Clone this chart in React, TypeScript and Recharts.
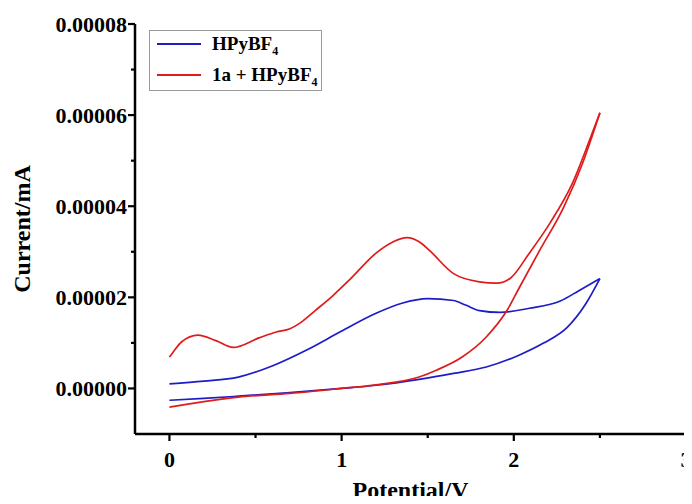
import { LineChart, Line, XAxis, YAxis, Legend } from 'recharts'

// potential (V) / current (mA), each sweep branch listed with rising potential
const blueFwdV = [0, 0.2, 0.4, 0.6, 0.8, 1.0, 1.2, 1.35, 1.5, 1.65, 1.72, 1.8, 1.92, 2.09, 2.27, 2.38, 2.5]
const blueFwdI = [1.0e-6, 1.6e-6, 2.5e-6, 5.0e-6, 8.5e-6, 1.26e-5, 1.65e-5, 1.87e-5, 1.97e-5, 1.93e-5, 1.83e-5, 1.71e-5, 1.67e-5, 1.76e-5, 1.92e-5, 2.15e-5, 2.41e-5]

const blueRevV = [0, 0.2, 0.4, 0.7, 1.0, 1.2, 1.45, 1.65, 1.84, 2.03, 2.17, 2.31, 2.42, 2.5]
const blueRevI = [-2.6e-6, -2.2e-6, -1.7e-6, -9e-7, 0, 7e-7, 2.0e-6, 3.3e-6, 4.7e-6, 7.3e-6, 9.9e-6, 1.34e-5, 1.87e-5, 2.41e-5]

const redFwdV = [0, 0.02, 0.07, 0.165, 0.27, 0.37, 0.52, 0.62, 0.7, 0.76, 0.85, 0.95, 1.05, 1.2, 1.3, 1.38, 1.45, 1.51, 1.65, 1.8, 1.9, 1.98, 2.09, 2.21, 2.34, 2.44, 2.5]
const redFwdI = [6.9e-6, 7.9e-6, 1.02e-5, 1.17e-5, 1.05e-5, 9.0e-6, 1.11e-5, 1.24e-5, 1.31e-5, 1.44e-5, 1.72e-5, 2.04e-5, 2.4e-5, 2.97e-5, 3.22e-5, 3.31e-5, 3.22e-5, 3.03e-5, 2.52e-5, 2.34e-5, 2.31e-5, 2.42e-5, 2.97e-5, 3.63e-5, 4.5e-5, 5.45e-5, 6.05e-5]

const redRevV = [0, 0.2, 0.4, 0.7, 1.0, 1.2, 1.45, 1.55, 1.7, 1.84, 1.96, 2.03, 2.15, 2.29, 2.4, 2.5]
const redRevI = [-4.1e-6, -2.9e-6, -1.9e-6, -1.1e-6, 0, 8e-7, 2.5e-6, 4.0e-6, 6.9e-6, 1.13e-5, 1.71e-5, 2.2e-5, 3.03e-5, 3.98e-5, 4.95e-5, 6.05e-5]

const xTicks = [0, 0.5, 1, 1.5, 2, 2.5, 3]
const yTicks = [0, 0.00001, 0.00002, 0.00003, 0.00004, 0.00005, 0.00006, 0.00007, 0.00008]

const BLUE = '#1c1cc8'
const RED = '#e01b1b'
const FONT = '"Times New Roman", "Liberation Serif", serif'
const TICK_SIZE = 6
const X_MARGIN = 11
const Y_MARGIN = 2

const toPoints = (v: number[], i: number[]) => v.map((x, k) => ({ v: x, i: i[k] }))

const series = [
  { name: 'HPyBF', prefix: '', color: BLUE, fwd: toPoints(blueFwdV, blueFwdI), rev: toPoints(blueRevV, blueRevI) },
  { name: 'HPyBF', prefix: '1a + ', color: RED, fwd: toPoints(redFwdV, redFwdI), rev: toPoints(redRevV, redRevI) },
]

const XTick = ({ x, y, payload }: any) => {
  const major = Number.isInteger(payload.value)
  const axisY = y - TICK_SIZE - X_MARGIN
  return (
    <g>
      <line x1={x} x2={x} y1={axisY} y2={axisY + (major ? 7 : 4)} stroke="#000" strokeWidth={2.2} />
      {major && (
        <text x={x} y={y} dy="0.71em" textAnchor="middle" fontFamily={FONT} fontWeight="bold" fontSize={22} fill="#000">
          {payload.value}
        </text>
      )}
    </g>
  )
}

const YTick = ({ x, y, payload }: any) => {
  const major = Math.round(payload.value * 1e5) % 2 === 0
  const axisX = x + TICK_SIZE + Y_MARGIN
  return (
    <g>
      <line x1={axisX - (major ? 7 : 4)} x2={axisX} y1={y} y2={y} stroke="#000" strokeWidth={2.2} />
      {major && (
        <text x={x} y={y} dy="0.36em" textAnchor="end" fontFamily={FONT} fontWeight="bold" fontSize={22} fill="#000">
          {payload.value.toFixed(5)}
        </text>
      )}
    </g>
  )
}

const LegendBox = () => (
  <div style={{ border: '1px solid #9a9a9a', width: 171, height: 59, background: '#fff', fontFamily: FONT, fontWeight: 'bold', fontSize: 19, color: '#000' }}>
    {series.map((s, k) => (
      <div key={k} style={{ display: 'flex', alignItems: 'center', height: 26, marginTop: k === 0 ? 0 : 5 }}>
        <div style={{ width: 44, height: 2, background: s.color, marginLeft: 7, marginRight: 11 }} />
        <span style={{ whiteSpace: 'nowrap', lineHeight: '26px' }}>
          {s.prefix}{s.name}<sub style={{ fontSize: 12, lineHeight: 0 }}>4</sub>
        </span>
      </div>
    ))}
  </div>
)

export default function App() {
  return (
    <div style={{ margin: -8, width: 692, height: 504, background: '#fff' }}>
      <LineChart width={692} height={504} margin={{ top: 24, right: 6, bottom: 0, left: 0 }}>
        <XAxis
          type="number"
          dataKey="v"
          domain={[-0.2, 3]}
          ticks={xTicks}
          interval={0}
          height={70}
          tickSize={TICK_SIZE}
          tickMargin={X_MARGIN}
          tickLine={false}
          tick={(p: any) => <XTick {...p} />}
          axisLine={{ stroke: '#000', strokeWidth: 2.5 }}
          allowDataOverflow
          label={{ value: 'Potential/V', position: 'insideBottom', offset: 6, style: { fontFamily: FONT, fontWeight: 'bold', fontSize: 24, fill: '#000' } }}
        />
        <YAxis
          type="number"
          domain={[-0.00001, 0.00008]}
          ticks={yTicks}
          interval={0}
          width={135}
          tickSize={TICK_SIZE}
          tickMargin={Y_MARGIN}
          tickLine={false}
          tick={(p: any) => <YTick {...p} />}
          axisLine={{ stroke: '#000', strokeWidth: 2.5 }}
          allowDataOverflow
          label={{ value: 'Current/mA', angle: -90, position: 'insideLeft', offset: 21, style: { textAnchor: 'middle', fontFamily: FONT, fontWeight: 'bold', fontSize: 24, fill: '#000' } }}
        />
        <Legend
          layout="horizontal"
          verticalAlign="middle"
          align="center"
          wrapperStyle={{ left: 149, top: 30, width: 173 }}
          content={() => <LegendBox />}
        />
        {series.map((s, k) => (
          <Line key={`f${k}`} data={s.fwd} dataKey="i" type="monotone" stroke={s.color} strokeWidth={1.7} dot={false} legendType="none" isAnimationActive={false} />
        ))}
        {series.map((s, k) => (
          <Line key={`r${k}`} data={s.rev} dataKey="i" type="monotone" stroke={s.color} strokeWidth={1.7} dot={false} legendType="none" isAnimationActive={false} />
        ))}
      </LineChart>
    </div>
  )
}
